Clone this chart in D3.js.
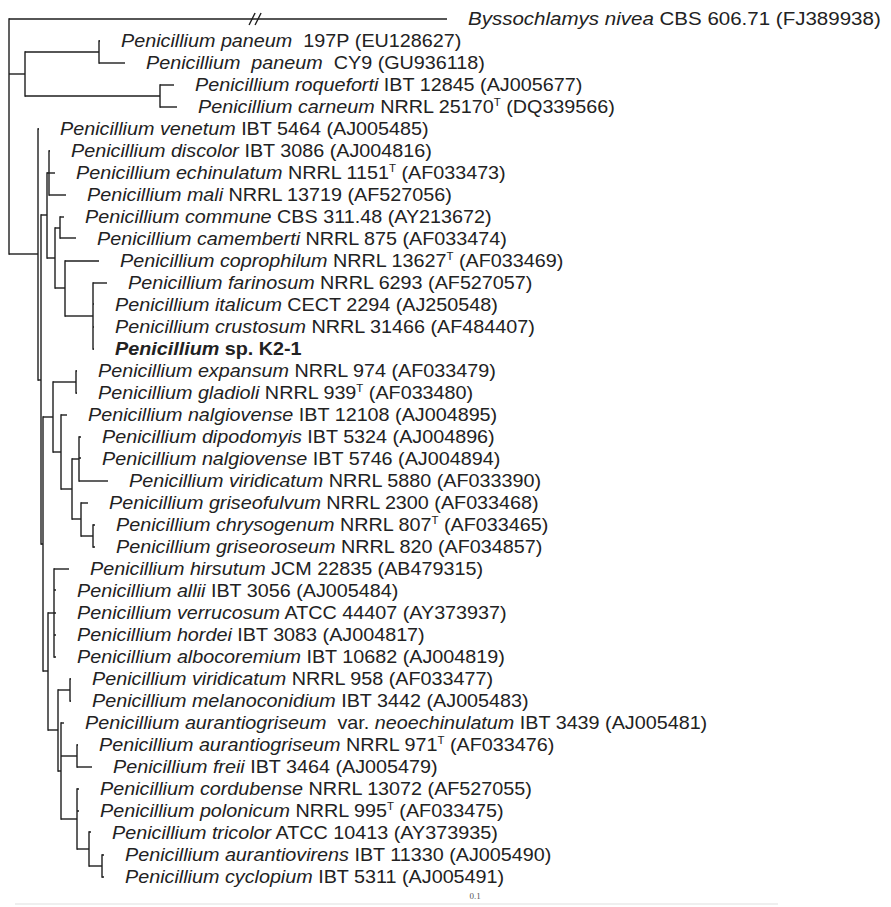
<!DOCTYPE html>
<html><head><meta charset="utf-8">
<script src="https://cdn.jsdelivr.net/npm/d3@7"></script>
<style>
html,body{margin:0;padding:0;background:#fff;}
svg{display:block;}
text{font-family:"Liberation Sans",Arial,sans-serif;white-space:pre;}
</style></head><body>
<svg id="chart" width="891" height="907"></svg>
<script>
// ---- leaf labels (in tree order, top to bottom) ----
const taxa = [
  "Byssochlamys nivea","Penicillium paneum","Penicillium  paneum","Penicillium roqueforti","Penicillium carneum",
  "Penicillium venetum","Penicillium discolor","Penicillium echinulatum","Penicillium mali","Penicillium commune",
  "Penicillium camemberti","Penicillium coprophilum","Penicillium farinosum","Penicillium italicum","Penicillium crustosum",
  "Penicillium","Penicillium expansum","Penicillium gladioli","Penicillium nalgiovense","Penicillium dipodomyis",
  "Penicillium nalgiovense","Penicillium viridicatum","Penicillium griseofulvum","Penicillium chrysogenum","Penicillium griseoroseum",
  "Penicillium hirsutum","Penicillium allii","Penicillium verrucosum","Penicillium hordei","Penicillium albocoremium",
  "Penicillium viridicatum","Penicillium melanoconidium","Penicillium aurantiogriseum","Penicillium aurantiogriseum","Penicillium freii",
  "Penicillium cordubense","Penicillium polonicum","Penicillium tricolor","Penicillium aurantiovirens","Penicillium cyclopium"
];
const varieties = {32: "neoechinulatum"};
const strains = [
  "CBS 606.71","197P","CY9","IBT 12845","NRRL 25170",
  "IBT 5464","IBT 3086","NRRL 1151","NRRL 13719","CBS 311.48",
  "NRRL 875","NRRL 13627","NRRL 6293","CECT 2294","NRRL 31466",
  "sp. K2-1","NRRL 974","NRRL 939","IBT 12108","IBT 5324",
  "IBT 5746","NRRL 5880","NRRL 2300","NRRL 807","NRRL 820",
  "JCM 22835","IBT 3056","ATCC 44407","IBT 3083","IBT 10682",
  "NRRL 958","IBT 3442","IBT 3439","NRRL 971","IBT 3464",
  "NRRL 13072","NRRL 995","ATCC 10413","IBT 11330","IBT 5311"
];
const typeStrains = [4, 7, 11, 17, 23, 33, 36];
const accessions = [
  "FJ389938","EU128627","GU936118","AJ005677","DQ339566",
  "AJ005485","AJ004816","AF033473","AF527056","AY213672",
  "AF033474","AF033469","AF527057","AJ250548","AF484407",
  "","AF033479","AF033480","AJ004895","AJ004896",
  "AJ004894","AF033390","AF033468","AF033465","AF034857",
  "AB479315","AJ005484","AY373937","AJ004817","AJ004819",
  "AF033477","AJ005483","AJ005481","AF033476","AJ005479",
  "AF527055","AF033475","AY373935","AJ005490","AJ005491"
];
const queryLeaf = 15;   // Penicillium sp. K2-1 (bold)
const truncatedLeaf = 0; // outgroup branch drawn with a break

// ---- topology with branch lengths (Newick), leaves L0..L39 ----
const cladeB1 = "((L6:0.001,L7:0.006,L8:0.017):0.002,((L9:0.004,L10:0.016):0.005,(L11:0.034,(L12:0.014,L13:0.001,L14:0.001,L15:0.001):0.028):0.010):0.008)";
const cladeC  = "((L16:0.001,L17:0.001):0.023,(L18:0.006,((L19:0.002,L20:0.002,L21:0.029):0.007,(L22:0.007,(L23:0.002,L24:0.002):0.012):0.009):0.011):0.008)";
const cladeD  = "(L25:0.015,L26:0.002,L27:0.002,L28:0.002,L29:0.002)";
const cladeE  = "((L30:0.001,L31:0.001):0.012,(L32:0.003,(L33:0.001,L34:0.015):0.016,(L35:0.002,L36:0.002,(L37:0.002,(L38:0.002,L39:0.002):0.013):0.012):0.016):0.003)";
const cladeA  = "((L1:0.001,L2:0.026):0.074,(L3:0.014,L4:0.017):0.135)";
const scaleBarLabel = "0.1";

const cladeN3 = "(" + cladeD + ":0.006," + cladeE + ":0.010)";
const cladeN2 = "(" + cladeC + ":0.010," + cladeN3 + ":0.005)";
const cladeN  = "(" + cladeB1 + ":0.006," + cladeN2 + ":0.002)";
const cladeM  = "(L5:0.001," + cladeN + ":0.003)";
const newick  = "(L0:0.438," + cladeA + ":0.016," + cladeM + ":0.029);";

function parseNewick(s){
  let i = 0;
  function node(){
    const n = {children: []};
    if (s[i] === '(') {
      i++;
      n.children.push(node());
      while (s[i] === ',') { i++; n.children.push(node()); }
      i++;
    }
    let name = '';
    while (i < s.length && !':,();'.includes(s[i])) name += s[i++];
    n.name = name;
    n.length = 0;
    if (s[i] === ':') {
      i++; let num = '';
      while (i < s.length && !',();'.includes(s[i])) num += s[i++];
      n.length = +num;
    }
    if (!n.children.length) delete n.children;
    return n;
  }
  return node();
}

const svg = d3.select("#chart");
const root = d3.hierarchy(parseNewick(newick));
root.each(d => { d.dist = (d.parent ? d.parent.dist : 0) + d.data.length; });

const x = d3.scaleLinear().domain([0, 0.1]).range([9, 109]);
const y = d3.scaleLinear().domain([0, taxa.length - 1]).range([18.5, 876.5]);

root.eachAfter(d => {
  if (d.children) {
    d.py = (d.children[0].py + d.children[d.children.length - 1].py) / 2;
  } else {
    d.idx = +d.data.name.slice(1);
    d.py = y(d.idx);
  }
});

const lineColor = "#1e1e1e";
const g = svg.append("g").attr("stroke", lineColor).attr("stroke-width", 1.4).attr("fill", "none");

// horizontal branches
g.selectAll("line.h").data(root.descendants().filter(d => d.parent)).join("line")
  .attr("class", "h")
  .attr("x1", d => x(d.parent.dist)).attr("x2", d => x(d.dist))
  .attr("y1", d => Math.round(d.py)).attr("y2", d => Math.round(d.py));

// vertical connectors
g.selectAll("line.v").data(root.descendants().filter(d => d.children)).join("line")
  .attr("class", "v")
  .attr("x1", d => x(d.dist)).attr("x2", d => x(d.dist))
  .attr("y1", d => Math.round(d.children[0].py) - 0.7)
  .attr("y2", d => Math.round(d.children[d.children.length - 1].py) + 0.7);

// break mark on the truncated outgroup branch
const outLeaf = root.leaves().find(d => d.idx === truncatedLeaf);
const bx = x(outLeaf.parent.dist) + (x(outLeaf.dist) - x(outLeaf.parent.dist)) * 0.555;
const by = Math.round(outLeaf.py);
[0, 6].forEach(off => {
  g.append("line").attr("x1", bx + off - 3).attr("y1", by + 6).attr("x2", bx + off + 3).attr("y2", by - 6);
});

// labels
const labels = svg.append("g").attr("fill", "#222").attr("font-size", 19);
root.leaves().forEach(d => {
  const i = d.idx;
  const t = labels.append("text")
    .attr("transform", `translate(${x(d.dist) + 21},${d.py}) scale(${i === truncatedLeaf ? 1.08 : 1.04},1)`)
    .attr("dy", "0.35em");
  if (i === queryLeaf) {
    t.attr("font-weight", "bold");
    t.append("tspan").attr("font-style", "italic").text(taxa[i]);
    t.append("tspan").text(" " + strains[i]);
    return;
  }
  t.append("tspan").attr("font-style", "italic").text(taxa[i]);
  if (varieties[i]) {
    t.append("tspan").text("  var. ");
    t.append("tspan").attr("font-style", "italic").text(varieties[i]);
  }
  t.append("tspan").text((i === 1 || i === 2 ? "  " : " ") + strains[i]);
  let acc = " (" + accessions[i] + ")";
  if (typeStrains.includes(i)) {
    t.append("tspan").attr("font-size", 11).attr("dy", -7).text("T");
    t.append("tspan").attr("dy", 7).text(acc);
  } else {
    t.append("tspan").text(acc);
  }
});

// scale label
svg.append("text").attr("x", 475).attr("y", 899).attr("text-anchor", "middle")
  .attr("font-size", 9).attr("fill", "#555").style("font-family", "'Liberation Serif',serif")
  .text(scaleBarLabel);
svg.append("line").attr("x1", 15).attr("x2", 778).attr("y1", 904).attr("y2", 904)
  .attr("stroke", "#efefef").attr("stroke-width", 2);
</script>
</body></html>
